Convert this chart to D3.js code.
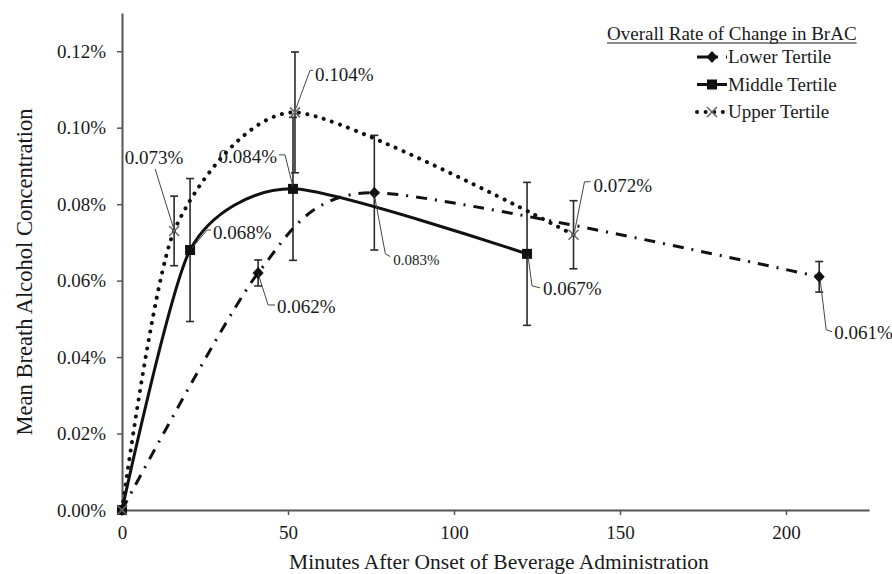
<!DOCTYPE html>
<head>
    <style>
        body { margin: 0; background: #fff; }
    </style>
    <script src="https://d3js.org/d3.v7.min.js"></script>
</head>
<body>
    <svg width="892" height="574"></svg>
    <script>
        // minutes after onset, mean BrAC (%), +/- error
        var lowerX = [0, 41, 76, 210],
            lowerY = [0, 0.062, 0.083, 0.061],
            lowerErr = [0, 0.0034, 0.015, 0.004];

        var middleX = [0, 20.5, 51.5, 122],
            middleY = [0, 0.068, 0.084, 0.067],
            middleErr = [0, 0.0187, 0.0187, 0.0187];

        var upperX = [0, 15.7, 52.1, 136],
            upperY = [0, 0.073, 0.104, 0.072],
            upperErr = [0, 0.0091, 0.0158, 0.0089];

        var seriesNames = ["Lower Tertile", "Middle Tertile", "Upper Tertile"];
        var xTicks = [0, 50, 100, 150, 200],
            yTicks = [0, 0.02, 0.04, 0.06, 0.08, 0.10, 0.12];

        var FONT = "'Liberation Serif', 'Times New Roman', serif";
        var svg = d3.select("svg").attr("font-family", FONT);

        var x = d3.scaleLinear().domain([0, 225]).range([122, 869]);
        var y = d3.scaleLinear().domain([0, 0.13]).range([510, 13]);

        var axisColor = "#555";

        // axes
        var gx = svg.append("g").attr("transform", "translate(0,510)")
            .call(d3.axisBottom(x).tickValues(xTicks).tickSize(5).tickPadding(6).tickSizeOuter(0));
        var gy = svg.append("g").attr("transform", "translate(122,0)")
            .call(d3.axisLeft(y).tickValues(yTicks).tickSize(5).tickPadding(11).tickSizeOuter(0)
                .tickFormat(function(d) { return d.toFixed(2) + "%"; }));
        [gx, gy].forEach(function(g) {
            g.attr("font-family", FONT).attr("font-size", 19);
            g.select(".domain").attr("stroke", axisColor).attr("stroke-width", 2);
            g.selectAll(".tick line").attr("stroke", axisColor).attr("stroke-width", 1.5);
            g.selectAll(".tick text").attr("fill", "#1a1a1a");
        });
        gx.selectAll(".tick text").attr("dy", "0.95em");

        svg.append("text")
           .attr("x", 499).attr("y", 569)
           .attr("text-anchor", "middle")
           .attr("font-size", 21.5).attr("fill", "#1a1a1a")
           .text("Minutes After Onset of Beverage Administration");

        svg.append("text")
           .attr("transform", "translate(32,272) rotate(-90)")
           .attr("text-anchor", "middle")
           .attr("font-size", 22.5).attr("fill", "#1a1a1a")
           .text("Mean Breath Alcohol Concentration");

        var series = [
            { name: seriesNames[0], xs: lowerX, ys: lowerY, err: lowerErr, marker: "diamond",
              dash: "11 8 2 8", cap: "butt", width: 3 },
            { name: seriesNames[1], xs: middleX, ys: middleY, err: middleErr, marker: "square",
              dash: null, cap: "butt", width: 3 },
            { name: seriesNames[2], xs: upperX, ys: upperY, err: upperErr, marker: "cross",
              dash: "0.1 8.5", cap: "round", width: 4 }
        ];

        var line = d3.line().curve(d3.curveCardinal.tension(0.3));

        // error bars
        series.forEach(function(s) {
            var g = svg.append("g");
            s.xs.forEach(function(v, i) {
                if (!s.err[i]) return;
                var px = x(v), top = y(s.ys[i] + s.err[i]), bot = y(s.ys[i] - s.err[i]);
                g.append("line").attr("x1", px).attr("x2", px).attr("y1", top).attr("y2", bot);
                g.append("line").attr("x1", px - 4).attr("x2", px + 4).attr("y1", top).attr("y2", top);
                g.append("line").attr("x1", px - 4).attr("x2", px + 4).attr("y1", bot).attr("y2", bot);
            });
            g.selectAll("line").attr("stroke", "#2a2a2a").attr("stroke-width", 1.6);
        });

        function drawMarker(g, type, px, py) {
            if (type === "diamond") {
                g.append("path").attr("d", "M" + px + "," + (py - 6) + "L" + (px + 5.5) + "," + py +
                    "L" + px + "," + (py + 6) + "L" + (px - 5.5) + "," + py + "Z").attr("fill", "#111");
            } else if (type === "square") {
                g.append("rect").attr("x", px - 5).attr("y", py - 5).attr("width", 10).attr("height", 10)
                    .attr("fill", "#111");
            } else {
                g.append("path").attr("d", "M" + (px - 5) + "," + (py - 5) + "L" + (px + 5) + "," + (py + 5) +
                    "M" + (px - 5) + "," + (py + 5) + "L" + (px + 5) + "," + (py - 5))
                    .attr("stroke", "#666").attr("stroke-width", 1.5).attr("fill", "none");
            }
        }

        // curves and markers
        series.forEach(function(s) {
            var pts = s.xs.map(function(v, i) { return [x(v), y(s.ys[i])]; });
            svg.append("path")
               .attr("d", line(pts))
               .attr("fill", "none")
               .attr("stroke", "#111")
               .attr("stroke-width", s.width)
               .attr("stroke-linecap", s.cap)
               .attr("stroke-dasharray", s.dash);
            var g = svg.append("g");
            pts.forEach(function(p) { drawMarker(g, s.marker, p[0], p[1]); });
        });

        // value labels with leader lines: [series, point index, leader offsets, text offset, anchor, size]
        var callouts = [
            [2, 1, [[0, -1], [-19, -62]], [-20, -73], "middle", 19],
            [1, 2, [[0, -2], [-8, -34], [-14, -34]], [-16, -32], "end", 19],
            [1, 1, [[2, -2], [17, -20], [21, -20]], [23, -17], "start", 19],
            [0, 1, [[0, 1], [10, 32], [17, 32]], [19, 34], "start", 19],
            [2, 2, [[1, -4], [15, -42], [18, -42]], [20, -38], "start", 19],
            [0, 2, [[0, 2], [11, 61], [16, 64]], [19, 67], "start", 15],
            [1, 3, [[1, 2], [5, 32], [13, 34]], [16, 35], "start", 19],
            [2, 3, [[1, -3], [11, -53], [17, -53]], [20, -49], "start", 19],
            [0, 3, [[1, 3], [7, 53], [13, 55]], [15, 56], "start", 19]
        ];
        var lg = svg.append("g");
        callouts.forEach(function(c) {
            var s = series[c[0]], i = c[1];
            var px = x(s.xs[i]), py = y(s.ys[i]);
            lg.append("path")
              .attr("d", "M" + c[2].map(function(o) { return (px + o[0]) + "," + (py + o[1]); }).join("L"))
              .attr("fill", "none").attr("stroke", "#444").attr("stroke-width", 1);
            lg.append("text")
              .attr("x", px + c[3][0]).attr("y", py + c[3][1])
              .attr("dy", "0.33em")
              .attr("text-anchor", c[4])
              .attr("font-size", c[5]).attr("fill", "#1a1a1a")
              .text(s.ys[i].toFixed(3) + "%");
        });

        // legend
        var leg = svg.append("g");
        var title = leg.append("text")
           .attr("x", 607).attr("y", 40)
           .attr("font-size", 19).attr("fill", "#1a1a1a")
           .text("Overall Rate of Change in BrAC");
        var tw = title.node().getComputedTextLength();
        leg.append("line").attr("x1", 607).attr("x2", 607 + tw).attr("y1", 43).attr("y2", 43)
           .attr("stroke", "#1a1a1a").attr("stroke-width", 1);

        series.forEach(function(s, i) {
            var cy = 57 + i * 27.5;
            leg.append("path")
               .attr("d", "M697," + cy + "L727," + cy)
               .attr("stroke", "#111")
               .attr("stroke-width", s.width)
               .attr("stroke-linecap", s.cap)
               .attr("stroke-dasharray", s.dash);
            drawMarker(leg, s.marker, 712, cy);
            leg.append("text")
               .attr("x", 728).attr("y", cy).attr("dy", "0.33em")
               .attr("font-size", 19).attr("fill", "#1a1a1a")
               .text(s.name);
        });
    </script>
</body>
</html>
